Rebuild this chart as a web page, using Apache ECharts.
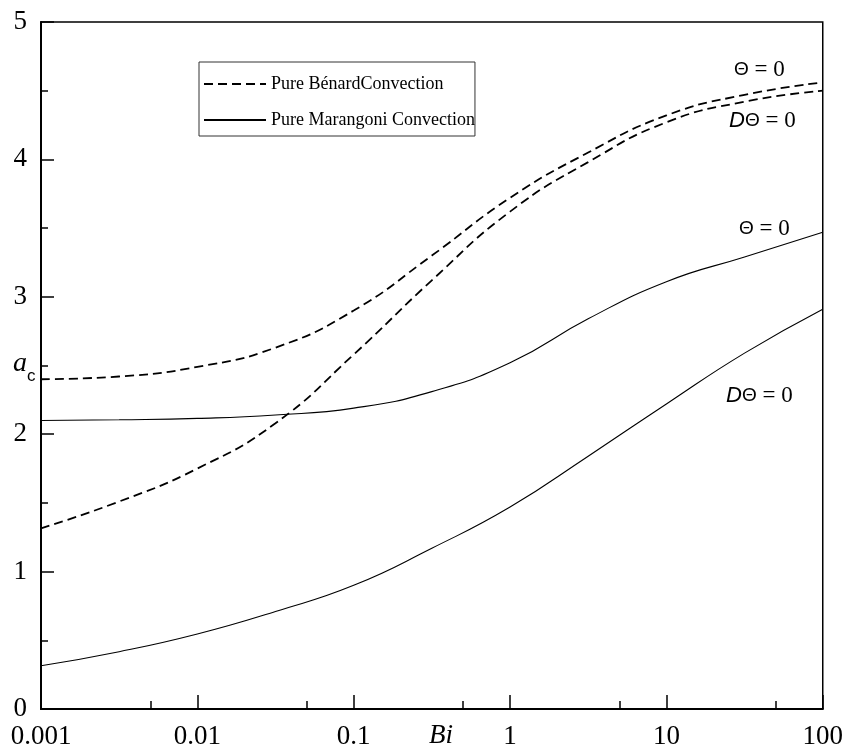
<!DOCTYPE html>
<html>
<head>
<meta charset="utf-8">
<script src="https://cdn.jsdelivr.net/npm/echarts@6/dist/echarts.min.js"></script>
<style>
  html, body { margin: 0; padding: 0; background: #fff; }
  #chart { width: 846px; height: 753px; }
</style>
</head>
<body>
<div id="chart"></div>
<script>
// Biot number sample points (log-spaced)
const biValues = [0.001, 0.00316, 0.01, 0.0316, 0.1, 0.316, 1, 3.16, 10, 31.6, 100];

// Critical wavenumber a_c
const benardTheta   = [2.40, 2.42, 2.49, 2.63, 2.90, 3.30, 3.72, 4.05, 4.32, 4.47, 4.56];
const benardDTheta  = [1.315, 1.51, 1.75, 2.08, 2.58, 3.12, 3.62, 3.98, 4.27, 4.42, 4.50];
const marangoniTheta  = [2.10, 2.105, 2.115, 2.14, 2.19, 2.31, 2.52, 2.84, 3.11, 3.29, 3.47];
const marangoniDTheta = [0.315, 0.417, 0.546, 0.71, 0.90, 1.17, 1.47, 1.84, 2.22, 2.59, 2.91];

const xMinorTicks = [0.005, 0.05, 0.5, 5, 50];

const BENARD = 'Pure B\u00e9nardConvection';
const MARANGONI = 'Pure Marangoni Convection';

const serif = "'Liberation Serif', 'Times New Roman', serif";
const sans = "'Liberation Sans', Arial, sans-serif";

function pairs(ys) { return biValues.map((b, i) => [b, ys[i]]); }

const dashed = { color: '#000', width: 1.8, type: [9, 5] };
const solid = { color: '#000', width: 1.1, type: 'solid' };

function lineSeries(name, ys, style) {
  return {
    name: name, type: 'line', data: pairs(ys), smooth: 0.5,
    symbol: 'none', lineStyle: style, itemStyle: { color: '#000' },
    emphasis: { disabled: true }, silent: true, z: 3
  };
}

const chart = echarts.init(document.getElementById('chart'), null, { renderer: 'canvas' });

function thetaLabel(withD) {
  return (withD ? '{d|D}' : '') + '{t|\u0398}{s| = 0}';
}
const labelRich = {
  d: { fontFamily: sans, fontStyle: 'italic', fontSize: 22, fill: '#000' },
  t: { fontFamily: sans, fontSize: 19, fill: '#000' },
  s: { fontFamily: serif, fontSize: 23, fill: '#000' }
};

chart.setOption({
  animation: false,
  backgroundColor: '#fff',
  grid: { left: 41, right: 23, top: 22, bottom: 44, show: true, borderColor: '#000', borderWidth: 1.5 },
  legend: {
    left: 199, top: 62, orient: 'vertical',
    data: [BENARD, MARANGONI],
    itemWidth: 62, itemHeight: 12, itemGap: 18,
    padding: [13, 0, 7, 4],
    borderColor: '#333', borderWidth: 1,
    backgroundColor: '#fff',
    itemStyle: { opacity: 0 },
    textStyle: { fontFamily: serif, fontSize: 18, color: '#000' },
    selectedMode: false
  },
  xAxis: [{
    type: 'log', logBase: 10, min: 0.001, max: 100,
    axisLine: { lineStyle: { color: '#000', width: 2 } },
    axisTick: { inside: true, length: 14, lineStyle: { color: '#000', width: 1.5 } },
    minorTick: { show: false },
    splitLine: { show: false },
    axisLabel: {
      margin: 14, color: '#000', fontFamily: serif, fontSize: 27,
      formatter: v => String(parseFloat(Number(v).toPrecision(6)))
    }
  }, {
    type: 'log', logBase: 10, min: 0.001, max: 100, position: 'bottom',
    axisLine: { show: false },
    axisTick: { inside: true, length: 8, customValues: xMinorTicks, lineStyle: { color: '#000', width: 1.5 } },
    axisLabel: { show: false },
    splitLine: { show: false }
  }],
  yAxis: {
    type: 'value', min: 0, max: 5, interval: 1,
    axisLine: { show: true, lineStyle: { color: '#000', width: 2 } },
    axisTick: { show: true, inside: true, length: 13, lineStyle: { color: '#000', width: 1.5 } },
    minorTick: { show: true, splitNumber: 2, length: 7, lineStyle: { color: '#000', width: 1.5 } },
    splitLine: { show: false },
    axisLabel: { margin: 14, color: '#000', fontFamily: serif, fontSize: 27 }
  },
  series: [
    lineSeries(BENARD, benardTheta, dashed),
    lineSeries(BENARD, benardDTheta, dashed),
    lineSeries(MARANGONI, marangoniTheta, solid),
    lineSeries(MARANGONI, marangoniDTheta, solid)
  ],
  graphic: [
    { type: 'text', left: 13, top: 350, style: { text: 'a', fontFamily: serif, fontStyle: 'italic', fontSize: 28, fill: '#000' } },
    { type: 'text', left: 27, top: 368, style: { text: 'c', fontFamily: sans, fontSize: 17, fill: '#000' } },
    { type: 'text', left: 429, top: 722, style: { text: 'Bi', fontFamily: serif, fontStyle: 'italic', fontSize: 27, fill: '#000' } },
    { type: 'text', left: 734, top: 58, style: { text: thetaLabel(false), rich: labelRich } },
    { type: 'text', left: 729, top: 109, style: { text: thetaLabel(true), rich: labelRich } },
    { type: 'text', left: 739, top: 217, style: { text: thetaLabel(false), rich: labelRich } },
    { type: 'text', left: 726, top: 384, style: { text: thetaLabel(true), rich: labelRich } }
  ]
});
</script>
</body>
</html>
